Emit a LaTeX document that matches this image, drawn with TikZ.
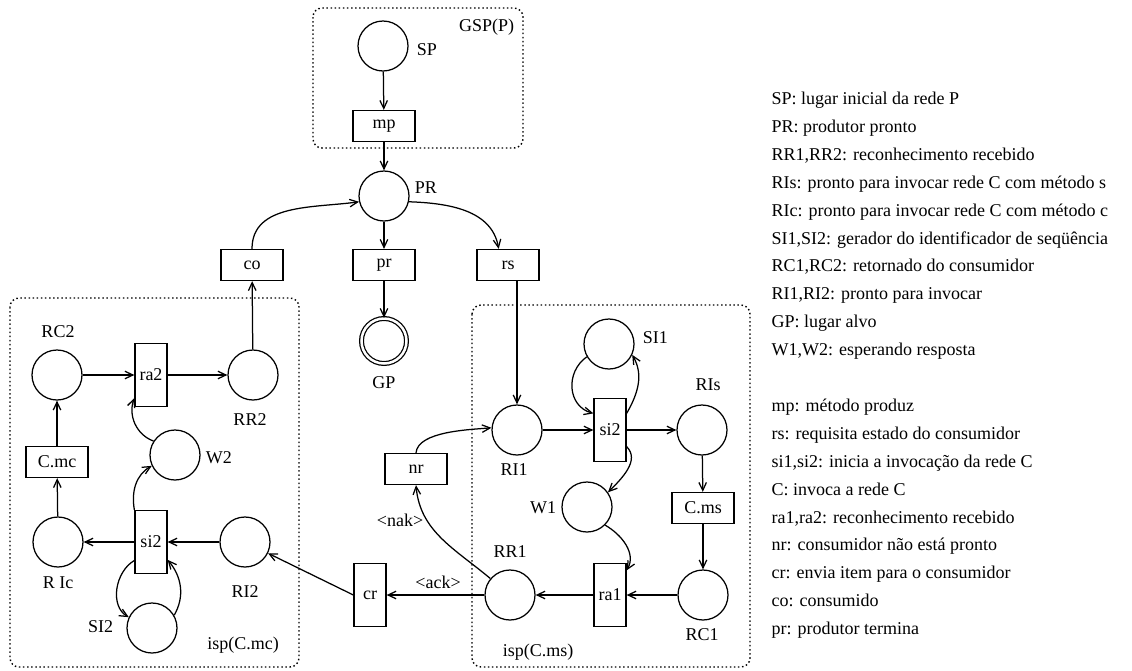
\documentclass[tikz,border=0pt]{standalone}
\usepackage{fontspec}
\setmainfont{Liberation Serif}
\usetikzlibrary{arrows.meta}
\tikzset{
  place/.style={draw,circle,minimum size=50pt,inner sep=0pt},
  goal/.style={place,minimum size=45pt,double,double distance=2.5pt},
  trans/.style={draw,minimum width=62pt,minimum height=31pt,inner sep=0pt},
  vtrans/.style={draw,minimum width=32pt,minimum height=63pt,inner sep=0pt},
  arc/.style={-{Straight Barb[length=8pt,width=7.5pt]}},
  region/.style={dash pattern=on 1.5pt off 2.6pt,line width=1.4pt,rounded corners=9pt},
  key/.style={anchor=west,inner sep=0pt,text height=13pt,text depth=4pt}
}
\begin{document}
\begin{tikzpicture}[x=1pt,y=-1pt,line width=1.25pt,font=\fontsize{18}{22}\selectfont]
\useasboundingbox (0,0) rectangle (1132,670);
\draw[region] (313,8) rectangle (523,148);
\draw[region] (10,298) rectangle (299,667);
\draw[region] (472,305) rectangle (750,667);
\node[anchor=east] (gsp) at (518,27) {GSP(P)};
\node (ispmc) at (243,645) {isp(C.mc)};
\node (ispms) at (538,652) {isp(C.ms)};

% producer
\node[place] (SP) at (383,46) {};
\node[anchor=west] (lSP) at (413,50) {SP};
\node[trans] (mp) at (384,126) {mp};
\node[place] (PR) at (384,196) {};
\node[anchor=west] (lPR) at (411,188) {PR};
\node[trans] (co) at (252,265) {co};
\node[trans] (pr) at (384,265) {pr};
\node[trans] (rs) at (508,265) {rs};
\node[goal] (GP) at (384,341) {};
\node (lGP) at (384,383) {GP};

% isp(C.mc)
\node[place] (RC2) at (57,375) {};
\node (lRC2) at (58,332) {RC2};
\node[vtrans] (ra2) at (151,375) {ra2};
\node[place] (RR2) at (253,375) {};
\node (lRR2) at (250,420) {RR2};
\node[trans] (Cmc) at (57,462) {C.mc};
\node[place] (W2) at (175,455) {};
\node[anchor=west] (lW2) at (202,458) {W2};
\node[place] (RIc) at (58,542) {};
\node (lRIc) at (58,583) {R Ic};
\node[vtrans] (si2L) at (151,542) {si2};
\node[place] (RI2) at (245,542) {};
\node (lRI2) at (245,592) {RI2};
\node[place] (SI2) at (152,628) {};
\node[anchor=east] (lSI2) at (117,627) {SI2};

% consumer side
\node[vtrans] (cr) at (370,595) {cr};
\node[trans] (nr) at (416,469) {nr};
\node (nak) at (400,520) {<nak>};
\node (ack) at (438,582) {<ack>};

% isp(C.ms)
\node[place] (RI1) at (517,430) {};
\node (lRI1) at (514,470) {RI1};
\node[vtrans] (si2R) at (610,430) {si2};
\node[place] (SI1) at (609,344) {};
\node[anchor=west] (lSI1) at (639,338) {SI1};
\node[place] (RIs) at (702,430) {};
\node (lRIs) at (708,385) {RIs};
\node[trans] (Cms) at (703,508) {C.ms};
\node[place] (RC1) at (703,595) {};
\node (lRC1) at (702,635) {RC1};
\node[vtrans] (ra1) at (610,595) {ra1};
\node[place] (RR1) at (510,595) {};
\node (lRR1) at (510,552) {RR1};
\node[place] (W1) at (587,507) {};
\node[anchor=east] (lW1) at (560,508) {W1};

\draw[arc] (SP) -- (mp);
\draw[arc] (mp) -- (PR);
\draw[arc] (PR) -- (pr);
\draw[arc] (pr) -- (GP);
\draw[arc] (co.north) to[out=90,in=188] (PR.193);
\draw[arc] (PR.-13) to[out=-2,in=100] (rs.120);
\draw[arc] (RI1 |- rs.south) -- (RI1);
\draw[arc] (RR2) -- (co);

\draw[arc] (RC2) -- (ra2);
\draw[arc] (ra2) -- (RR2);
\draw[arc] (Cmc) -- (RC2);
\draw[arc] (RIc) -- (Cmc);
\draw[arc] (si2L) -- (RIc);
\draw[arc] (RI2) -- (si2L);
\draw[arc] (W2.147) to[out=160,in=-110] (ra2.234);
\draw[arc] (si2L.north west) to[out=100,in=210] (W2.205);
\draw[arc] (si2L.228) to[out=210,in=150] (SI2.155);
\draw[arc] (SI2.30) to[out=60,in=-50] (si2L.-47);
\draw[arc] (cr.west) -- (RI2);

\draw[arc] (RR1) -- (cr);
\draw[arc] (RR1.140) to[out=140,in=-85] (nr.south);
\draw[arc] (nr.north) to[out=85,in=185,looseness=0.7] (RI1.175);
\draw[arc] (RI1) -- (si2R);
\draw[arc] (SI1.210) to[out=215,in=165,looseness=1.2] (si2R.135);
\draw[arc] (si2R.45) to[out=60,in=-60] (SI1.-25);
\draw[arc] (si2R) -- (RIs);
\draw[arc] (si2R.-45) to[out=-45,in=45] (W1.35);
\draw[arc] (W1.-45) to[out=-30,in=60] (ra1.56);
\draw[arc] (RIs) -- (Cms);
\draw[arc] (Cms) -- (RC1);
\draw[arc] (RC1) -- (ra1);
\draw[arc] (ra1) -- (RR1);

% legend
\foreach \txt [count=\i from 0] in {{SP: lugar inicial da rede P},{PR: produtor pronto},
    {RR1,RR2: reconhecimento recebido},{RIs: pronto para invocar rede C com método s},
    {RIc: pronto para invocar rede C com método c},{SI1,SI2: gerador do identificador de seqüência},
    {RC1,RC2: retornado do consumidor},{RI1,RI2: pronto para invocar},
    {GP: lugar alvo},{W1,W2: esperando resposta}}
  \node[key] (key\i) at (771,100+27.9*\i) {\txt};
\foreach \txt [count=\i from 11] in {{mp: método produz},{rs: requisita estado do consumidor},
    {si1,si2: inicia a invocação da rede C},{C: invoca a rede C},
    {ra1,ra2: reconhecimento recebido},{nr: consumidor não está pronto},
    {cr: envia item para o consumidor},{co: consumido},{pr: produtor termina}}
  \node[key] (key\i) at (771,100+27.9*\i) {\txt};
\end{tikzpicture}
\end{document}
